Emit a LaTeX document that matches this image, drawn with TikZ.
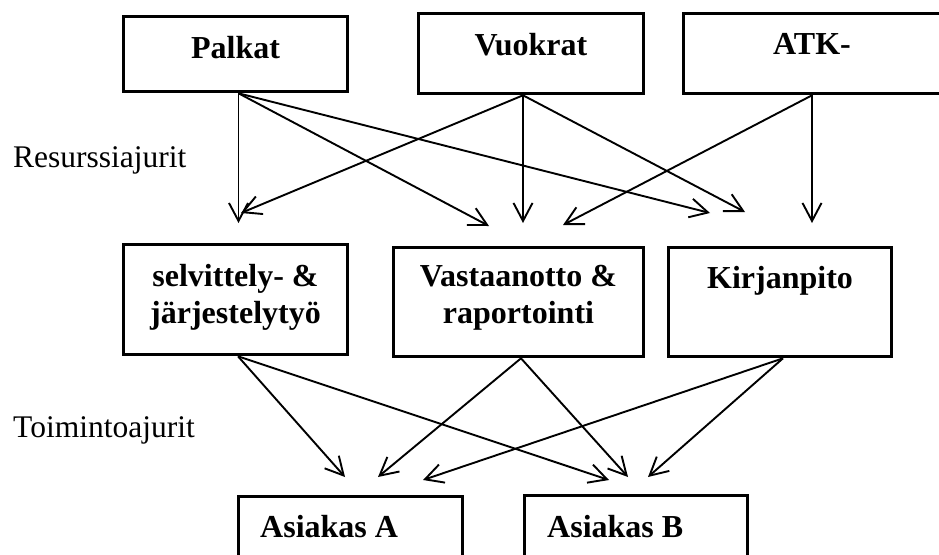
\documentclass[tikz,border=0pt]{standalone}
\usepackage{fontspec}
\setmainfont{Liberation Serif}
\usetikzlibrary{arrows.meta}
\begin{document}
\begin{tikzpicture}[x=1pt,y=-1pt,
  box/.style={draw, line width=3.6pt, inner sep=0pt},
  boxtext/.style={font=\fontsize{32}{37}\selectfont\bfseries, inner sep=0pt, align=center},
  side/.style={font=\fontsize{31.5}{37}\selectfont, inner sep=0pt, anchor=base west},
  link/.style={line width=1.9pt, -{Straight Barb[length=18pt,width=19pt,line width=1.9pt]}}]
\clip (0,0) rectangle (939,554);
\fill[white] (0,0) rectangle (939,554);

% cost pools
\node[box, minimum width=224pt, minimum height=75pt] (palkat) at (235.5,54) {};
\node[box, minimum width=225pt, minimum height=80pt] (vuokrat) at (531,53.5) {};
\node[box, minimum width=257pt, minimum height=80pt] (atk) at (812,53.5) {};
\node[boxtext, anchor=base] (palkat-t) at (235.5,58) {Palkat};
\node[boxtext, anchor=base] (vuokrat-t) at (531,55) {Vuokrat};
\node[boxtext, anchor=base] (atk-t) at (812,54) {ATK-};

% activities
\node[box, minimum width=224pt, minimum height=110pt] (selv) at (235.5,299.5) {};
\node[box, minimum width=250pt, minimum height=109pt] (vast) at (518.5,302) {};
\node[box, minimum width=223pt, minimum height=109pt] (kirj) at (780,302) {};
\node[boxtext] (selv-t) at (235.5,297) {selvittely- \&\\järjestelytyö};
\node[boxtext] (vast-t) at (518.5,298) {Vastaanotto \&\\raportointi};
\node[boxtext, anchor=base] (kirj-t) at (780,288) {Kirjanpito};

% cost objects
\node[box, minimum width=224pt, minimum height=100pt] (asA) at (350.5,546.5) {};
\node[box, minimum width=223pt, minimum height=100pt] (asB) at (636,545.5) {};
\node[boxtext, anchor=base west] (asA-t) at (260,537) {Asiakas A};
\node[boxtext, anchor=base west] (asB-t) at (547,537) {Asiakas B};

% driver labels
\node[side] (res) at (13,167) {Resurssiajurit};
\node[side] (toim) at (13,437) {Toimintoajurit};

% connector end points
\coordinate (p-out) at ([xshift=3pt]palkat.south);
\coordinate (v-out) at ([xshift=-8pt]vuokrat.south);
\coordinate (a-out) at (atk.south);
\coordinate (s-out) at ([xshift=2.5pt]selv.south);
\coordinate (r-out) at ([xshift=2.5pt]vast.south);
\coordinate (k-out) at ([xshift=3pt]kirj.south);

\coordinate (t-ps) at (238.5,223);
\coordinate (t-pv) at (489,226);
\coordinate (t-pk) at (710,213);
\coordinate (t-vs) at (241,213);
\coordinate (t-vv) at (523,223);
\coordinate (t-vk) at (745,212);
\coordinate (t-av) at (563,225);
\coordinate (t-ak) at (812,223);
\coordinate (t-sa) at (345,477);
\coordinate (t-sb) at (609,480);
\coordinate (t-va) at (378,477);
\coordinate (t-vb) at (628,477);
\coordinate (t-ka) at (423,480);
\coordinate (t-kb) at (648,477);

% resource drivers
\draw[link] (p-out) -- (t-ps);
\draw[link] (p-out) -- (t-pv);
\draw[link] (p-out) -- (t-pk);
\draw[link] (v-out) -- (t-vs);
\draw[link] (v-out) -- (t-vv);
\draw[link] (v-out) -- (t-vk);
\draw[link] (a-out) -- (t-av);
\draw[link] (a-out) -- (t-ak);

% activity drivers
\draw[link] (s-out) -- (t-sa);
\draw[link] (s-out) -- (t-sb);
\draw[link] (r-out) -- (t-va);
\draw[link] (r-out) -- (t-vb);
\draw[link] (k-out) -- (t-ka);
\draw[link] (k-out) -- (t-kb);
\end{tikzpicture}
\end{document}
